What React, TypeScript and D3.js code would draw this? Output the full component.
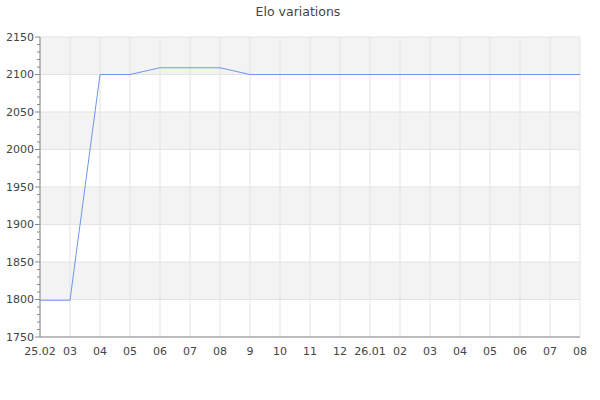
import React from "react";
import * as d3 from "d3";

const dates = ["25.02", "03", "04", "05", "06", "07", "08", "9", "10", "11", "12", "26.01", "02", "03", "04", "05", "06", "07", "08"];
const elo = [1799, 1799, 2100, 2100, 2109, 2109, 2109, 2100, 2100, 2100, 2100, 2100, 2100, 2100, 2100, 2100, 2100, 2100, 2100];
const yTicks = [1750, 1800, 1850, 1900, 1950, 2000, 2050, 2100, 2150];

const W = 600;
const H = 400;
const margin = { top: 37, right: 20, bottom: 63, left: 40 };

export default function App() {
  const x = d3
    .scaleLinear()
    .domain([0, dates.length - 1])
    .range([margin.left, W - margin.right]);
  const y = d3.scaleLinear().domain([1750, 2150]).range([H - margin.bottom, margin.top]);

  const line = d3
    .line<number>()
    .x((_, i) => x(i))
    .y((d) => y(d));

  const minor = d3.range(1750, 2151, 10);
  const font = "'DejaVu Sans', sans-serif";

  return (
    <svg
      width={W}
      height={H}
      style={{ position: "absolute", left: 0, top: 0, background: "#fff" }}
      fontFamily={font}
    >
      <text x={298} y={16} textAnchor="middle" fontSize={12.5} fill="#444">
        Elo variations
      </text>

      {/* alternating bands */}
      {yTicks.slice(0, -1).map((t, i) =>
        i % 2 === 1 ? (
          <rect
            key={t}
            x={margin.left}
            width={W - margin.left - margin.right}
            y={y(t + 50)}
            height={y(t) - y(t + 50)}
            fill="#f3f3f3"
          />
        ) : null
      )}

      {/* vertical grid */}
      {dates.map((_, i) => (
        <line key={"v" + i} x1={x(i)} x2={x(i)} y1={margin.top} y2={H - margin.bottom} stroke="#e3e3e3" strokeWidth={1} />
      ))}
      {/* horizontal grid */}
      {yTicks.map((t) => (
        <line key={"h" + t} x1={margin.left} x2={W - margin.right} y1={y(t)} y2={y(t)} stroke="#e3e3e3" strokeWidth={1} />
      ))}

      <path d={line(elo) ?? ""} fill="none" stroke="#6a96ee" strokeWidth={1} />

      {/* axes */}
      <line x1={margin.left} x2={margin.left} y1={margin.top} y2={H - margin.bottom} stroke="#888" />
      <line x1={margin.left} x2={W - margin.right} y1={H - margin.bottom} y2={H - margin.bottom} stroke="#888" />
      {minor.map((t) => (
        <line
          key={"m" + t}
          x1={margin.left - (t % 50 === 0 ? 5 : 3)}
          x2={margin.left}
          y1={y(t)}
          y2={y(t)}
          stroke="#888"
        />
      ))}
      {yTicks.map((t) => (
        <text key={"yl" + t} x={margin.left - 6} y={y(t)} dy="0.35em" textAnchor="end" fontSize={11} fill="#444">
          {t}
        </text>
      ))}
      {dates.map((d, i) => (
        <text key={"xl" + i} x={x(i)} y={H - margin.bottom + 18} textAnchor="middle" fontSize={11} fill="#444">
          {d}
        </text>
      ))}
    </svg>
  );
}
